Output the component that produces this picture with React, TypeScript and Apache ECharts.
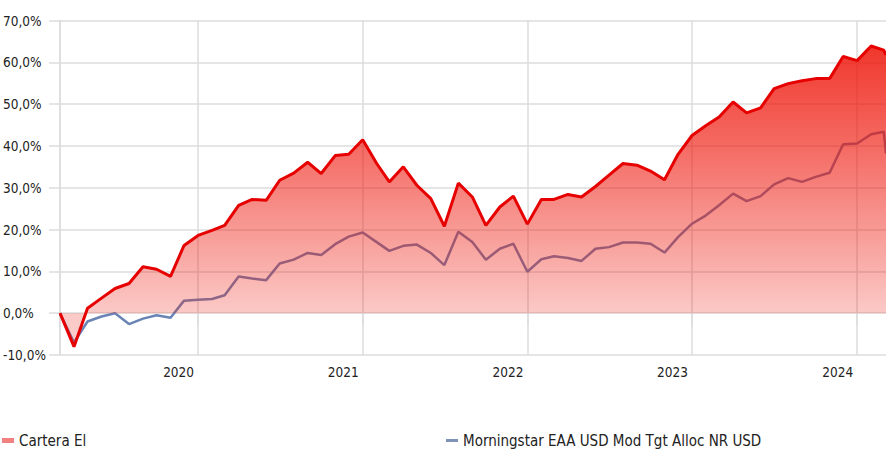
import React, { useEffect, useRef } from "react";
import * as echarts from "echarts";

// Month-end observations (YYYY-MM), plus a final partial-month date
const months = [
  "2020-02", "2020-03", "2020-04", "2020-05", "2020-06", "2020-07", "2020-08", "2020-09", "2020-10", "2020-11", "2020-12",
  "2021-01", "2021-02", "2021-03", "2021-04", "2021-05", "2021-06", "2021-07", "2021-08", "2021-09", "2021-10", "2021-11", "2021-12",
  "2022-01", "2022-02", "2022-03", "2022-04", "2022-05", "2022-06", "2022-07", "2022-08", "2022-09", "2022-10", "2022-11", "2022-12",
  "2023-01", "2023-02", "2023-03", "2023-04", "2023-05", "2023-06", "2023-07", "2023-08", "2023-09", "2023-10", "2023-11", "2023-12",
  "2024-01", "2024-02", "2024-03", "2024-04", "2024-05", "2024-06", "2024-07", "2024-08", "2024-09", "2024-10", "2024-11", "2024-12",
  "2025-01", "2025-02",
];
const lastDate = "2025-03-05";

const carteraValues = [
  0, -8.0, 1.2, 3.6, 5.9, 7.1, 11.1, 10.5, 8.8, 16.2, 18.6,
  19.8, 21.0, 25.8, 27.2, 27.0, 31.8, 33.5, 36.1, 33.4, 37.7, 38.0, 41.5,
  35.8, 31.4, 35.0, 30.6, 27.4, 20.8, 31.1, 27.8, 21.0, 25.4, 28.0, 21.3,
  27.2, 27.2, 28.4, 27.8, 30.3, 33.0, 35.8, 35.4, 34.0, 31.9, 38.0, 42.5,
  44.9, 46.9, 50.5, 47.9, 49.1, 53.7, 54.9, 55.6, 56.1, 56.1, 61.4, 60.4,
  63.9, 62.9, 61.8,
];
const benchmarkValues = [
  0, -7.0, -2.0, -0.8, 0, -2.6, -1.3, -0.5, -1.1, 3.0, 3.2,
  3.4, 4.3, 8.8, 8.3, 7.9, 11.9, 12.8, 14.4, 13.9, 16.5, 18.3, 19.3,
  17.0, 14.9, 16.1, 16.4, 14.4, 11.5, 19.5, 17.0, 12.8, 15.4, 16.6, 9.9,
  12.9, 13.6, 13.2, 12.5, 15.4, 15.8, 16.9, 16.9, 16.6, 14.5, 18.2, 21.4,
  23.4, 25.8, 28.6, 26.8, 28.0, 30.8, 32.3, 31.4, 32.6, 33.6, 40.4, 40.6,
  42.8, 43.4, 38.2,
];
const yearTickDates = ["2020-12-31", "2021-12-31", "2022-12-31", "2023-12-31", "2024-12-31"];
const yearLabels = ["2020", "2021", "2022", "2023", "2024"];
const seriesNames = ["Cartera El", "Morningstar EAA USD Mod Tgt Alloc NR USD"];

const toTs = (d: string) => {
  const [y, m, day] = d.split("-").map(Number);
  return Date.UTC(y, m - 1, day);
};
const monthEndTs = (ym: string) => {
  const [y, m] = ym.split("-").map(Number);
  return Date.UTC(y, m, 0);
};

const FONT = "'DejaVu Sans Condensed', 'Liberation Sans Narrow', sans-serif";
const GRID = "#dcdcdc";
const TEXT = "#222222";

export default function App() {
  const ref = useRef<HTMLDivElement>(null);
  useEffect(() => {
    if (!ref.current) return;
    const chart = echarts.init(ref.current, null, { renderer: "svg" });
    const dates = [...months.map(monthEndTs), toTs(lastDate)];
    const yearTs = yearTickDates.map(toTs);
    const t0 = dates[0];
    const tEnd = dates[dates.length - 1];
    const cartera = dates.map((t, i) => [t, carteraValues[i]]);
    const bench = dates.map((t, i) => [t, benchmarkValues[i]]);

    chart.setOption({
      animation: false,
      textStyle: { fontFamily: FONT },
      grid: { left: 59, right: 0, top: 20.5, bottom: 103, containLabel: false },
      legend: [
        {
          left: 2,
          top: 433,
          padding: 0,
          icon: "rect",
          itemWidth: 12,
          itemHeight: 5,
          textStyle: { fontSize: 15, color: TEXT, fontFamily: FONT },
          data: [{ name: seriesNames[0], itemStyle: { color: "#f28080" } }],
        },
        {
          left: 446,
          top: 433,
          padding: 0,
          icon: "rect",
          itemWidth: 12,
          itemHeight: 3,
          textStyle: { fontSize: 15, color: TEXT, fontFamily: FONT },
          data: [{ name: seriesNames[1], itemStyle: { color: "#7f93b8" } }],
        },
      ],
      xAxis: {
        type: "value",
        min: t0,
        max: tEnd,
        axisLine: { show: false },
        axisTick: {
          show: true,
          customValues: [t0, ...yearTs],
          length: 12,
          lineStyle: { color: GRID, width: 1.5 },
        },
        axisLabel: {
          customValues: yearTs,
          formatter: (v: number) => {
            const k = yearTs.indexOf(v);
            return k >= 0 ? yearLabels[k] : "";
          },
          align: "right",
          padding: [0, 4, 0, 0],
          margin: 10,
          fontSize: 13.5,
          color: TEXT,
          fontFamily: FONT,
        },
        splitLine: { show: true, lineStyle: { color: GRID, width: 1.5 } },
      },
      yAxis: {
        type: "value",
        min: -10,
        max: 70,
        interval: 10,
        axisLine: { show: true, lineStyle: { color: GRID, width: 1.5 } },
        axisTick: { show: true, length: 11, lineStyle: { color: GRID, width: 1.5 } },
        axisLabel: {
          formatter: (v: number) => v.toFixed(1).replace(".", ",") + "%",
          align: "left",
          margin: 57,
          fontSize: 13.5,
          color: TEXT,
          fontFamily: FONT,
        },
        splitLine: { show: true, lineStyle: { color: GRID, width: 1.5 } },
      },
      series: [
        {
          name: seriesNames[1],
          type: "line",
          data: bench,
          showSymbol: false,
          symbol: "none",
          lineStyle: { color: "#6a84b5", width: 2.5 },
          itemStyle: { color: "#7f93b8" },
          z: 2,
        },
        {
          name: seriesNames[0],
          type: "line",
          data: cartera,
          showSymbol: false,
          symbol: "none",
          lineStyle: { color: "#e60000", width: 3 },
          itemStyle: { color: "#f28080" },
          areaStyle: {
            origin: 0,
            opacity: 1,
            color: new echarts.graphic.LinearGradient(0, 0, 0, 1, [
              { offset: 0, color: "rgba(238,22,10,0.86)" },
              { offset: 0.33, color: "rgba(238,22,10,0.64)" },
              { offset: 0.89, color: "rgba(238,22,10,0.23)" },
              { offset: 1, color: "rgba(238,22,10,0.21)" },
            ]),
          },
          z: 3,
        },
      ],
    });
    return () => chart.dispose();
  }, []);
  return (
    <div
      ref={ref}
      style={{ position: "fixed", left: 0, top: 0, width: 886, height: 458, background: "#fff" }}
    />
  );
}
